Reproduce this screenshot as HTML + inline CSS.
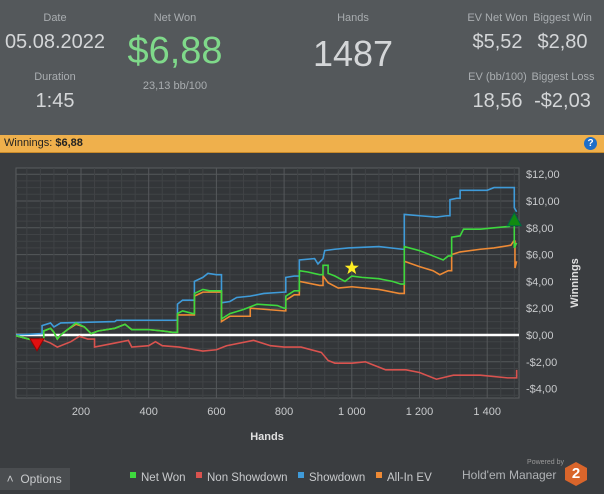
<!DOCTYPE html>
<html><head><meta charset="utf-8"><style>
body{margin:0;width:604px;height:494px;background:#3a3d40;font-family:"Liberation Sans",sans-serif;overflow:hidden;position:relative}
.hdr{position:absolute;left:0;top:0;width:604px;height:135px;background:#54585b}
.t{position:absolute;color:#b8bcbf;text-align:center;white-space:nowrap}
.lbl{font-size:11px;color:#a9adb0}
.v{font-size:20px;color:#d4d6d8}
.bar{position:absolute;left:0;top:135px;width:604px;height:17px;background:#efb04c;border-bottom:1px solid #c98a2a}
</style></head><body>
<div class="hdr">
<div class="t lbl" style="left:20px;top:12px;width:70px">Date</div>
<div class="t v" style="left:0;top:31px;width:110px">05.08.2022</div>
<div class="t lbl" style="left:20px;top:71px;width:70px">Duration</div>
<div class="t v" style="left:20px;top:90px;width:70px">1:45</div>
<div class="t lbl" style="left:120px;top:12px;width:110px">Net Won</div>
<div class="t" style="left:110px;top:30px;width:130px;font-size:38px;color:#7fd98a">$6,88</div>
<div class="t lbl" style="left:120px;top:80px;width:110px">23,13 bb/100</div>
<div class="t lbl" style="left:300px;top:12px;width:106px">Hands</div>
<div class="t" style="left:290px;top:33px;width:126px;font-size:36px;color:#d4d6d8">1487</div>
<div class="t lbl" style="left:455px;top:12px;width:85px">EV Net Won</div>
<div class="t v" style="left:455px;top:31px;width:85px">$5,52</div>
<div class="t lbl" style="left:525px;top:12px;width:75px">Biggest Win</div>
<div class="t v" style="left:525px;top:31px;width:75px">$2,80</div>
<div class="t lbl" style="left:455px;top:71px;width:85px">EV (bb/100)</div>
<div class="t v" style="left:455px;top:90px;width:85px">18,56</div>
<div class="t lbl" style="left:523px;top:71px;width:80px">Biggest Loss</div>
<div class="t v" style="left:525px;top:90px;width:75px">-$2,03</div>
</div>
<div class="bar">
<span style="position:absolute;left:4px;top:2px;font-size:11px;color:#222">Winnings: <b>$6,88</b></span>
<span style="position:absolute;left:584px;top:2px;width:13px;height:13px;border-radius:50%;background:#1e6ec8;color:#fff;font-size:10px;font-weight:bold;text-align:center;line-height:13px">?</span>
</div>
<svg id="chart" width="604" height="494" style="position:absolute;left:0;top:0"><defs><clipPath id="pc"><rect x="16" y="168" width="503" height="230"/></clipPath></defs></svg>
<div style="position:absolute;left:0;top:468px;width:70px;height:22px;background:#4a4d50;color:#c8cacc;font-size:12px;line-height:22px">&nbsp;&nbsp;˄&nbsp;&nbsp;Options</div>
<div style="position:absolute;left:464px;top:459px;width:100px;text-align:right;font-size:7px;color:#999">Powered by</div>
<div style="position:absolute;left:462px;top:468px;font-size:12px;color:#b0b3b6">Hold'em Manager</div>
<div style="position:absolute;left:565px;top:462px;width:22px;height:24px;background:#d9652b;clip-path:polygon(50% 0,100% 25%,100% 75%,50% 100%,0 75%,0 25%);color:#fff;font-weight:bold;font-size:15px;text-align:center;line-height:24px">2</div>
<script>
const yTicks=[-4,-2,0,2,4,6,8,10,12];
const xTicks=[200,400,600,800,1000,1200,1400];
const xTickLabels=["200","400","600","800","1 000","1 200","1 400"];
const showdownH=[0,80,85,110,120,140,300,305,480,485,500,530,535,560,575,600,615,640,660,700,740,800,805,830,845,890,900,915,920,950,990,1080,1150,1155,1200,1250,1280,1290,1310,1320,1400,1420,1475,1480,1487];
const showdownV=[0,0.1,0.7,0.9,0.6,0.9,1.0,1.1,1.1,2.3,2.6,2.6,4.0,4.3,4.6,4.5,2.4,2.5,2.8,2.9,3.1,3.2,4.3,4.4,5.6,5.7,5.3,5.7,6.3,6.4,6.5,6.6,6.4,9.0,8.9,8.8,8.9,10.1,10.2,10.8,10.8,11.0,11.0,9.5,9.2];
const netH=[0,30,60,80,90,110,120,130,140,160,185,210,230,250,300,330,350,400,440,470,485,500,530,535,560,580,615,640,680,720,780,800,805,830,845,870,905,915,930,950,980,1000,1030,1080,1120,1145,1155,1200,1240,1270,1285,1295,1320,1330,1380,1420,1465,1475,1480,1487];
const netV=[0,-0.2,-0.4,-0.3,0.3,0.5,0.2,-0.3,0.0,0.4,0.9,0.6,0.1,0.3,0.5,0.8,0.4,0.4,0.3,0.2,1.6,1.8,1.6,3.1,3.4,3.3,1.2,1.6,1.9,2.3,2.2,2.0,2.9,3.3,4.8,4.7,4.5,5.2,4.6,4.4,4.0,4.4,4.3,4.2,4.0,3.8,6.6,6.3,5.9,5.6,5.9,7.3,7.4,7.9,7.9,8.0,8.1,8.4,6.5,6.88];
const evH=[0,30,60,80,90,110,120,130,140,160,185,210,230,250,300,330,350,400,440,470,485,535,560,615,640,700,800,805,830,845,905,915,930,960,1000,1080,1140,1155,1200,1240,1260,1285,1295,1320,1380,1420,1470,1478,1482,1487];
const evV=[0,-0.2,-0.4,-0.3,0.3,0.5,0.2,-0.3,0.0,0.4,0.8,0.6,0.1,0.3,0.5,0.8,0.4,0.4,0.3,0.2,1.5,2.9,3.2,1.0,1.4,2.0,1.8,2.6,3.0,4.0,3.7,4.4,3.9,3.5,3.6,3.4,3.1,5.5,5.1,4.8,4.5,4.8,6.0,6.2,6.4,6.5,6.7,7.0,5.0,5.5];
const nsdH=[0,60,80,110,130,170,195,220,240,300,340,350,400,420,440,490,560,600,630,710,760,800,850,910,930,950,1000,1040,1060,1100,1160,1200,1250,1300,1380,1460,1487];
const nsdV=[0,-0.4,-0.3,-0.6,-0.9,-0.5,-0.1,-0.3,-0.9,-0.6,-0.4,-0.9,-0.8,-0.5,-0.8,-0.9,-1.2,-1.1,-0.8,-0.4,-0.8,-0.9,-0.9,-1.3,-1.9,-2.1,-2.1,-2.0,-2.2,-2.6,-2.6,-2.8,-3.3,-3.0,-3.0,-3.2,-2.6];
const markers=[{h:70,v:-0.8,k:"down"},{h:1000,v:5.0,k:"star"},{h:1480,v:8.6,k:"up"}];
const X0=16,X1=519,Y0=168,Y1=398;
const xs=h=>13.3+h*(67.7/200);
const ys=v=>335-v*13.4;
const svg=document.getElementById('chart');const NS="http://www.w3.org/2000/svg";
function mk(t,a,p){const e=document.createElementNS(NS,t);for(const k in a)e.setAttribute(k,a[k]);(p||svg).appendChild(e);return e;}
const bg=mk('rect',{x:X0,y:Y0,width:X1-X0,height:Y1-Y0,fill:'#333639',stroke:'#5a5d60'});


for(let v=-5;v<=12;v+=0.5){const y=ys(v);if(y<Y0||y>Y1)continue;mk('line',{x1:X0,x2:X1,y1:y,y2:y,stroke:Number.isInteger(v/2)?'#55585b':'#404346','stroke-width':1});}
for(let h=40;h<1500;h+=40){const x=xs(h);if(x>X1)continue;mk('line',{x1:x,x2:x,y1:Y0,y2:Y1,stroke:h%200===0?'#55585b':'#404346'});}
yTicks.forEach(v=>{const t=mk('text',{x:526,y:ys(v)+4,fill:'#c8cacc','font-size':11});t.textContent=(v<0?'-$':'$')+Math.abs(v).toFixed(2).replace('.',',');

});
xTicks.forEach((h,i)=>{const t=mk('text',{x:xs(h),y:415,fill:'#c8cacc','font-size':11,'text-anchor':'middle'});t.textContent=xTickLabels[i];

});
const xt=mk('text',{x:267,y:440,fill:'#e0e0e0','font-size':11,'font-weight':'bold','text-anchor':'middle'});xt.textContent='Hands';


const yt=mk('text',{x:0,y:0,fill:'#e0e0e0','font-size':11,'font-weight':'bold','text-anchor':'middle',transform:'translate(578,283) rotate(-90)'});yt.textContent='Winnings';


const zl=mk('line',{x1:X0,x2:X1,y1:ys(0),y2:ys(0),stroke:'#fff','stroke-width':2.5});


function series(H,V,c,name){let d='';H.forEach((h,i)=>{const x=xs(h),y=ys(V[i]);if(i===0)d='M'+x+' '+y;else if(Math.abs(V[i]-V[i-1])<0.6)d+=' L'+x+' '+y;else d+=' H'+x+' V'+y;});
const p=mk('path',{d:d,fill:'none',stroke:c,'stroke-width':1.6,'clip-path':'url(#pc)'});

}
series(nsdH,nsdV,'#d9534f','non-showdown-line');
series(showdownH,showdownV,'#3f9bd9','showdown-line');
series(evH,evV,'#ee8a35','all-in-ev-line');
series(netH,netV,'#3ed83e','net-won-line');
markers.forEach(m=>{const x=xs(m.h),y=ys(m.v);let e;
if(m.k==='down')e=mk('polygon',{points:`${x-7},${y-7} ${x+7},${y-7} ${x},${y+5}`,fill:'#e01010',stroke:'#900'});
else if(m.k==='up')e=mk('polygon',{points:`${x-7},${y+6} ${x+7},${y+6} ${x},${y-7}`,fill:'#118a11',stroke:'#064'});
else{let pts=[];for(let i=0;i<10;i++){const r=i%2?3:7.5,a=-Math.PI/2+i*Math.PI/5;pts.push((x+r*Math.cos(a)).toFixed(1)+','+(y+r*Math.sin(a)).toFixed(1));}e=mk('polygon',{points:pts.join(' '),fill:'#ffee22'});}

});
const legend=[["Net Won","#3ed83e",130],["Non Showdown","#d9534f",196],["Showdown","#3f9bd9",298],["All-In EV","#ee8a35",376]];
legend.forEach(l=>{const g=mk('g',{});


mk('rect',{x:l[2],y:472,width:6,height:6,fill:l[1]},g);const t=mk('text',{x:l[2]+11,y:481,fill:'#c8cacc','font-size':11.5},g);t.textContent=l[0];});
</script>
</body></html>
